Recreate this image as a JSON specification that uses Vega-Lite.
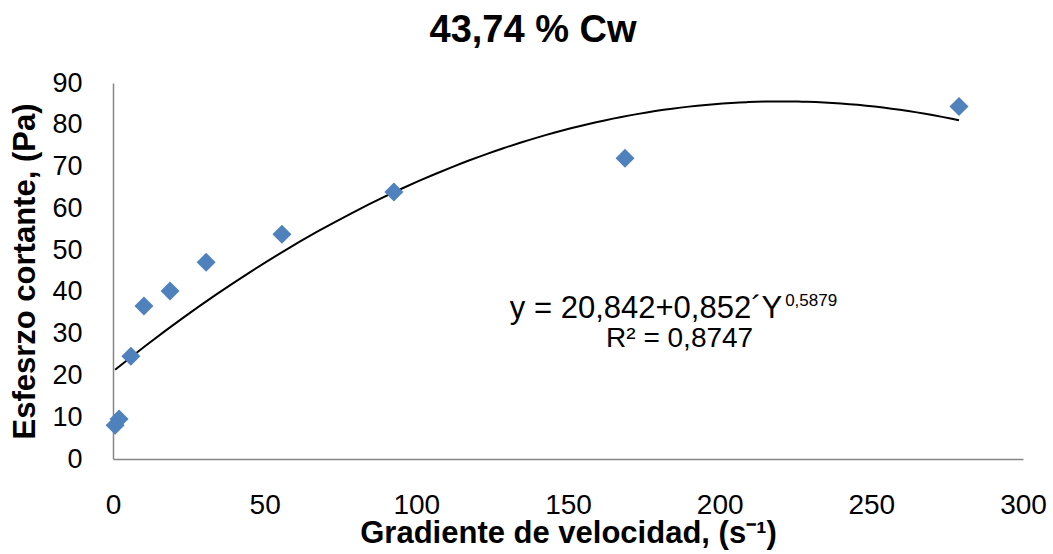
{
  "$schema": "https://vega.github.io/schema/vega-lite/v6.json",
  "autosize": "none",
  "width": 910,
  "height": 376,
  "padding": {"left": 113, "top": 83, "right": 30, "bottom": 95},
  "background": "white",
  "config": {
    "font": "Liberation Sans",
    "view": {"stroke": null}
  },
  "title": {
    "text": "43,74 % Cw",
    "fontSize": 38,
    "fontWeight": "bold",
    "color": "black",
    "offset": 19,
    "dx": -35
  },
  "datasets": {
    "medidas": [
      {"gradiente": 0.7, "esfuerzo": 8.1},
      {"gradiente": 2.0, "esfuerzo": 9.6},
      {"gradiente": 5.9, "esfuerzo": 24.6},
      {"gradiente": 10.2, "esfuerzo": 36.6},
      {"gradiente": 18.8, "esfuerzo": 40.2},
      {"gradiente": 30.7, "esfuerzo": 47.1},
      {"gradiente": 55.7, "esfuerzo": 53.8},
      {"gradiente": 92.6, "esfuerzo": 63.9},
      {"gradiente": 168.8, "esfuerzo": 72.0},
      {"gradiente": 278.9, "esfuerzo": 84.4}
    ],
    "ecuacion": [
      {"gradiente": 220.6, "esfuerzo": 35.8, "texto": "y = 20,842+0,852´Y", "exponente": "0,5879"}
    ],
    "ajuste": [
      {"gradiente": 186.8, "esfuerzo": 28.8, "texto": "R² = 0,8747"}
    ]
  },
  "encoding": {
    "x": {
      "field": "gradiente",
      "type": "quantitative",
      "scale": {"domain": [0, 300], "nice": false},
      "axis": {
        "title": "Gradiente de velocidad, (s⁻¹)",
        "values": [0, 50, 100, 150, 200, 250, 300],
        "grid": false,
        "ticks": false,
        "tickSize": 0,
        "labelFlush": false,
        "domainColor": "#868686",
        "domainWidth": 1.5,
        "labelFontSize": 28,
        "labelColor": "black",
        "labelPadding": 32,
        "titleFontSize": 31,
        "titleFontWeight": "bold",
        "titleColor": "black",
        "titlePadding": -1
      }
    },
    "y": {
      "field": "esfuerzo",
      "type": "quantitative",
      "scale": {"domain": [0, 90], "nice": false},
      "axis": {
        "title": "Esfesrzo cortante, (Pa)",
        "values": [0, 10, 20, 30, 40, 50, 60, 70, 80, 90],
        "grid": false,
        "ticks": false,
        "tickSize": 0,
        "labelFlush": false,
        "domainColor": "#868686",
        "domainWidth": 1.5,
        "labelFontSize": 27,
        "labelColor": "black",
        "labelPadding": 31,
        "titleFontSize": 31,
        "titleFontWeight": "bold",
        "titleColor": "black",
        "titlePadding": 10
      }
    }
  },
  "layer": [
    {
      "data": {"name": "medidas"},
      "transform": [
        {"regression": "esfuerzo", "on": "gradiente", "method": "poly", "order": 2}
      ],
      "mark": {"type": "line", "color": "black", "strokeWidth": 2, "interpolate": "monotone"}
    },
    {
      "data": {"name": "medidas"},
      "mark": {"type": "point", "shape": "diamond", "filled": true, "size": 360, "color": "#4F81BD", "opacity": 1}
    },
    {
      "data": {"name": "ecuacion"},
      "mark": {"type": "text", "fontSize": 31, "align": "right", "baseline": "middle", "color": "black"},
      "encoding": {"text": {"field": "texto"}}
    },
    {
      "data": {"name": "ecuacion"},
      "mark": {"type": "text", "fontSize": 17, "align": "left", "baseline": "middle", "dx": 3, "dy": -8, "color": "black"},
      "encoding": {"text": {"field": "exponente"}}
    },
    {
      "data": {"name": "ajuste"},
      "mark": {"type": "text", "fontSize": 28, "align": "center", "baseline": "middle", "color": "black"},
      "encoding": {"text": {"field": "texto"}}
    }
  ]
}
